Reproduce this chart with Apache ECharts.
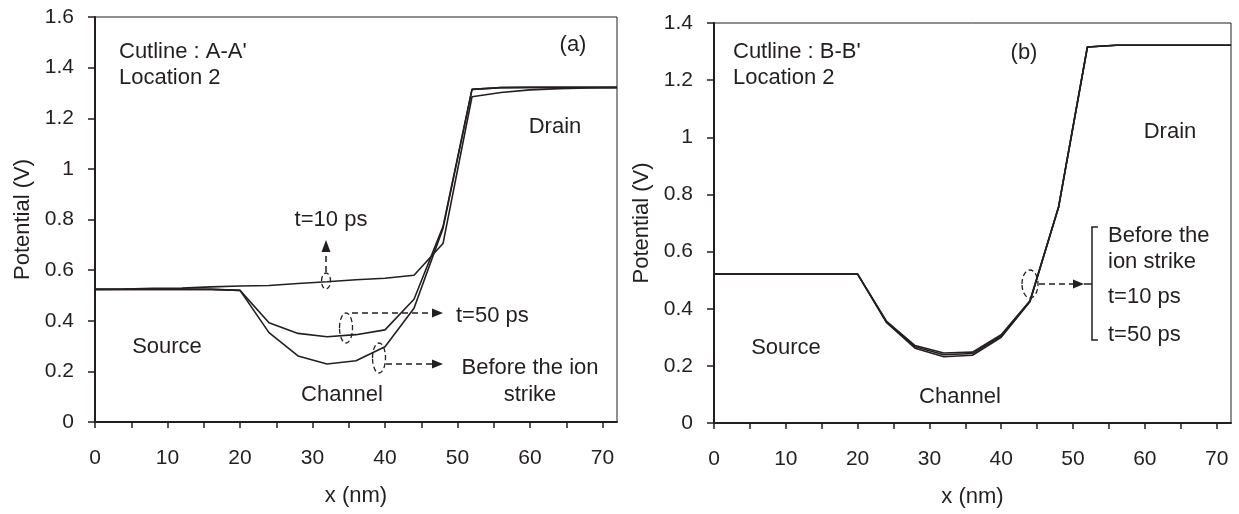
<!DOCTYPE html>
<html>
<head>
<meta charset="utf-8">
<script src="https://cdn.jsdelivr.net/npm/echarts@6/dist/echarts.min.js"></script>
<style>
html,body{margin:0;padding:0;background:#fff;}
#main{width:1239px;height:514px;}
</style>
</head>
<body>
<div id="main"></div>
<script>
// ---------- data ----------
const xNm = [0, 4, 8, 12, 16, 20, 24, 28, 32, 36, 40, 44, 48, 52, 56, 60, 64, 68, 72];

// Panel (a): Cutline A-A'
const aBefore = [0.524, 0.524, 0.524, 0.524, 0.524, 0.520, 0.353, 0.261, 0.229, 0.242, 0.297, 0.449, 0.765, 1.314, 1.321, 1.322, 1.322, 1.322, 1.322];
const aT10    = [0.524, 0.525, 0.528, 0.529, 0.534, 0.537, 0.539, 0.547, 0.554, 0.562, 0.568, 0.580, 0.705, 1.285, 1.302, 1.312, 1.317, 1.320, 1.321];
const aT50    = [0.524, 0.524, 0.524, 0.524, 0.524, 0.520, 0.392, 0.350, 0.337, 0.345, 0.364, 0.485, 0.772, 1.314, 1.321, 1.322, 1.322, 1.322, 1.322];

// Panel (b): Cutline B-B'
const bBefore = [0.521, 0.521, 0.521, 0.521, 0.521, 0.521, 0.352, 0.262, 0.232, 0.237, 0.300, 0.424, 0.757, 1.316, 1.322, 1.322, 1.322, 1.322, 1.322];
const bT10    = [0.521, 0.521, 0.521, 0.521, 0.521, 0.521, 0.355, 0.267, 0.239, 0.243, 0.305, 0.426, 0.757, 1.316, 1.322, 1.322, 1.322, 1.322, 1.322];
const bT50    = [0.521, 0.521, 0.521, 0.521, 0.521, 0.521, 0.357, 0.271, 0.245, 0.248, 0.309, 0.428, 0.757, 1.316, 1.322, 1.322, 1.322, 1.322, 1.322];

const xTicks = [0, 5, 10, 15, 20, 25, 30, 35, 40, 45, 50, 55, 60, 65, 70];
const xLabels = [0, 10, 20, 30, 40, 50, 60, 70];

// ---------- chart ----------
const INK = '#231f20';
const FONT = '"Liberation Sans", Arial, Helvetica, sans-serif';
const chart = echarts.init(document.getElementById('main'), null, {renderer: 'canvas'});

function pairs(xs, ys) { return xs.map((x, i) => [x, ys[i]]); }

function xAxisCfg(gi) {
  return {
    type: 'value', gridIndex: gi, min: 0, max: 72,
    name: 'x (nm)', nameLocation: 'middle', nameGap: 63,
    nameTextStyle: {color: INK, fontSize: 22, fontFamily: FONT},
    axisLine: {lineStyle: {color: INK, width: 2}},
    axisTick: {show: true, inside: false, length: 6, customValues: xTicks, lineStyle: {color: INK, width: 1.5}},
    axisLabel: {color: INK, fontSize: 21, fontFamily: FONT, margin: 26, customValues: xLabels},
    splitLine: {show: false}
  };
}
function yAxisCfg(gi, max) {
  return {
    type: 'value', gridIndex: gi, min: 0, max: max, interval: 0.2,
    name: 'Potential (V)', nameLocation: 'middle', nameGap: 61,
    nameTextStyle: {color: INK, fontSize: 22, fontFamily: FONT},
    axisLine: {lineStyle: {color: INK, width: 2}},
    axisTick: {show: true, inside: false, length: 7, lineStyle: {color: INK, width: 1.5}},
    axisLabel: {color: INK, fontSize: 21, fontFamily: FONT, margin: 21,
      formatter: v => String(+v.toFixed(1))},
    splitLine: {show: false}
  };
}
function lineSeries(gi, data) {
  return {
    type: 'line', xAxisIndex: gi, yAxisIndex: gi, data: data,
    showSymbol: false, symbol: 'none', smooth: false, silent: true,
    lineStyle: {color: INK, width: 1.6}, z: 3
  };
}

// annotation helpers (pixel layout)
function txt(x, y, s, align) {
  return {type: 'text', x: x, y: y, silent: true,
    style: {text: s, fill: INK, font: '22px ' + FONT, textAlign: align || 'left', textVerticalAlign: 'middle'}};
}
function ell(cx, cy, rx, ry) {
  return {type: 'ellipse', silent: true, shape: {cx: cx, cy: cy, rx: rx, ry: ry},
    style: {fill: 'none', stroke: INK, lineWidth: 1.3, lineDash: [5, 3]}};
}
function dline(x1, y1, x2, y2, dashed) {
  return {type: 'line', silent: true, shape: {x1: x1, y1: y1, x2: x2, y2: y2},
    style: {stroke: INK, lineWidth: 1.5, lineDash: dashed ? [6, 4] : null}};
}
function headRight(tipX, y) {
  return {type: 'polygon', silent: true, shape: {points: [[tipX, y], [tipX - 11, y - 4.5], [tipX - 11, y + 4.5]]}, style: {fill: INK}};
}
function headUp(x, tipY) {
  return {type: 'polygon', silent: true, shape: {points: [[x, tipY], [x - 4.5, tipY + 12], [x + 4.5, tipY + 12]]}, style: {fill: INK}};
}

const graphics = [
  // panel (a)
  txt(119, 52, "Cutline : A-A'"),
  txt(119, 78, 'Location 2'),
  txt(573, 45, '(a)', 'center'),
  txt(555, 127, 'Drain', 'center'),
  txt(331, 220, 't=10 ps', 'center'),
  txt(456, 316, 't=50 ps'),
  txt(530, 368, 'Before the ion', 'center'),
  txt(530, 395, 'strike', 'center'),
  txt(167, 347, 'Source', 'center'),
  txt(342, 395, 'Channel', 'center'),
  ell(326, 281, 4.5, 8),
  dline(326, 272, 326, 252, true),
  headUp(326, 240),
  ell(346, 328, 6.5, 15),
  dline(352, 313, 432, 313, true),
  headRight(443, 313),
  ell(379, 358, 6.5, 15),
  dline(386, 364, 432, 364, true),
  headRight(443, 364),
  // panel (b)
  txt(733, 52, "Cutline : B-B'"),
  txt(733, 78, 'Location 2'),
  txt(1024, 53, '(b)', 'center'),
  txt(1170, 132, 'Drain', 'center'),
  txt(786, 348, 'Source', 'center'),
  txt(960, 397, 'Channel', 'center'),
  ell(1030, 284, 8, 14),
  dline(1039, 284, 1073, 284, true),
  headRight(1084, 284),
  dline(1084, 284, 1092, 284, false),
  dline(1092, 227, 1092, 340, false),
  dline(1091.3, 227, 1098, 227, false),
  dline(1091.3, 340, 1098, 340, false),
  txt(1108, 236, 'Before the'),
  txt(1108, 262, 'ion strike'),
  txt(1108, 297, 't=10 ps'),
  txt(1108, 335, 't=50 ps')
];

chart.setOption({
  animation: false,
  backgroundColor: '#fff',
  textStyle: {fontFamily: FONT},
  grid: [
    {left: 95, top: 17, width: 522, height: 405, show: true, borderColor: INK, borderWidth: 1, backgroundColor: 'transparent'},
    {left: 714, top: 23, width: 517, height: 400, show: true, borderColor: INK, borderWidth: 1, backgroundColor: 'transparent'}
  ],
  xAxis: [xAxisCfg(0), xAxisCfg(1)],
  yAxis: [yAxisCfg(0, 1.6), yAxisCfg(1, 1.4)],
  series: [
    lineSeries(0, pairs(xNm, aBefore)),
    lineSeries(0, pairs(xNm, aT10)),
    lineSeries(0, pairs(xNm, aT50)),
    lineSeries(1, pairs(xNm, bBefore)),
    lineSeries(1, pairs(xNm, bT10)),
    lineSeries(1, pairs(xNm, bT50))
  ],
  graphic: graphics
});
</script>
</body>
</html>
